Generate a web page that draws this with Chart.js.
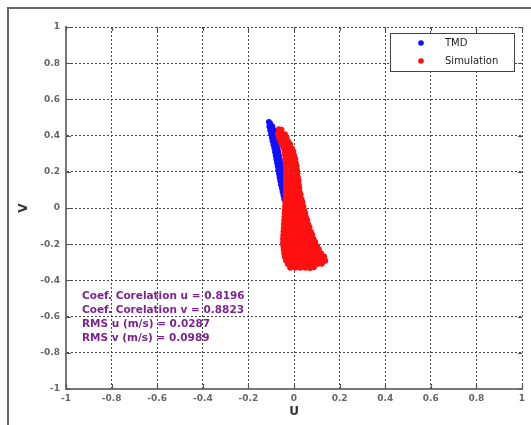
<!DOCTYPE html>
<html>
<head>
<meta charset="utf-8">
<script src="https://cdn.jsdelivr.net/npm/chart.js@4.4.1/dist/chart.umd.min.js"></script>
<style>
  body { margin: 0; background: #fff; overflow: hidden; }
  #wrap { position: relative; width: 531px; height: 425px; }
</style>
</head>
<body>
<div id="wrap"><canvas id="myChart"></canvas></div>
<script>
"use strict"

// Data (u, v)

const seriesNames = ['TMD', 'Simulation'];
const tickValues = [-1, -0.8, -0.6, -0.4, -0.2, 0, 0.2, 0.4, 0.6, 0.8, 1];
const statLines = [
    'Coef. Corelation u = 0.8196',
    'Coef. Corelation v = 0.8823',
    'RMS u (m/s) = 0.0287',
    'RMS v (m/s) = 0.0989'
];

const tmdPoints = [
    [-0.110, 0.475], [-0.104, 0.465],
    [-0.108, 0.45], [-0.095, 0.45], [-0.104, 0.43], [-0.088, 0.43],
    [-0.100, 0.41], [-0.085, 0.41], [-0.097, 0.39], [-0.082, 0.39],
    [-0.094, 0.37], [-0.079, 0.37], [-0.090, 0.35], [-0.076, 0.35],
    [-0.086, 0.33], [-0.072, 0.33], [-0.083, 0.31], [-0.069, 0.31],
    [-0.080, 0.29], [-0.066, 0.29], [-0.077, 0.27], [-0.063, 0.27],
    [-0.074, 0.25], [-0.060, 0.25], [-0.071, 0.23], [-0.057, 0.23],
    [-0.069, 0.21], [-0.055, 0.21], [-0.066, 0.19], [-0.052, 0.19],
    [-0.063, 0.17], [-0.050, 0.17], [-0.060, 0.15], [-0.048, 0.15],
    [-0.057, 0.13], [-0.046, 0.13], [-0.053, 0.11], [-0.044, 0.11],
    [-0.050, 0.09], [-0.042, 0.09], [-0.046, 0.07], [-0.043, 0.05],
    [-0.030, 0.02], [-0.020, -0.02], [0.018, 0.04], [0.035, -0.01],
    [-0.018, -0.05], [0.000, -0.08], [0.030, -0.12], [0.020, -0.17],
    [0.045, -0.22], [0.070, -0.26], [0.090, -0.28], [0.083, -0.29]
];

const simPoints = [
    [-0.066, 0.435], [-0.055, 0.432],
    [-0.070, 0.41], [-0.055, 0.412], [-0.040, 0.408],
    [-0.066, 0.39], [-0.049, 0.39], [-0.033, 0.392],
    [-0.059, 0.37], [-0.042, 0.37], [-0.026, 0.368],
    [-0.053, 0.35], [-0.035, 0.35], [-0.017, 0.352],
    [-0.045, 0.33], [-0.026, 0.33], [-0.008, 0.328],
    [-0.041, 0.31], [-0.022, 0.31], [-0.003, 0.312],
    [-0.039, 0.29], [-0.019, 0.29], [0.001, 0.288],
    [-0.037, 0.27], [-0.016, 0.27], [0.005, 0.272],
    [-0.036, 0.25], [-0.015, 0.25], [0.008, 0.248],
    [-0.035, 0.23], [-0.012, 0.23], [0.011, 0.232],
    [-0.035, 0.21], [-0.011, 0.21], [0.013, 0.208],
    [-0.035, 0.19], [-0.010, 0.19], [0.015, 0.192],
    [-0.035, 0.17], [-0.017, 0.17], [0.000, 0.17], [0.017, 0.168],
    [-0.035, 0.15], [-0.016, 0.15], [0.002, 0.15], [0.020, 0.152],
    [-0.035, 0.13], [-0.015, 0.13], [0.004, 0.13], [0.021, 0.128],
    [-0.035, 0.11], [-0.015, 0.11], [0.004, 0.11], [0.023, 0.112],
    [-0.035, 0.09], [-0.014, 0.09], [0.006, 0.09], [0.025, 0.088],
    [-0.036, 0.07], [-0.015, 0.07], [0.007, 0.07], [0.029, 0.072],
    [-0.037, 0.05], [-0.015, 0.05], [0.009, 0.05], [0.033, 0.048],
    [-0.038, 0.03], [-0.016, 0.03], [0.007, 0.03], [0.025, 0.03], [0.037, 0.032],
    [-0.039, 0.01], [-0.017, 0.01], [0.004, 0.01], [0.022, 0.01], [0.041, 0.008],
    [-0.040, -0.01], [-0.018, -0.01], [0.004, -0.01], [0.024, -0.01], [0.044, -0.012],
    [-0.041, -0.03], [-0.019, -0.03], [0.003, -0.03], [0.025, -0.03], [0.049, -0.028],
    [-0.042, -0.05], [-0.020, -0.05], [0.002, -0.05], [0.024, -0.05], [0.046, -0.05], [0.053, -0.052],
    [-0.043, -0.07], [-0.021, -0.07], [0.001, -0.07], [0.023, -0.07], [0.043, -0.07], [0.058, -0.068],
    [-0.044, -0.09], [-0.022, -0.09], [0.000, -0.09], [0.022, -0.09], [0.043, -0.09], [0.063, -0.092],
    [-0.045, -0.11], [-0.023, -0.11], [-0.001, -0.11], [0.021, -0.11], [0.044, -0.11], [0.068, -0.108],
    [-0.046, -0.13], [-0.024, -0.13], [-0.002, -0.13], [0.020, -0.13], [0.042, -0.13], [0.060, -0.13], [0.074, -0.132],
    [-0.047, -0.15], [-0.025, -0.15], [-0.003, -0.15], [0.019, -0.15], [0.041, -0.15], [0.062, -0.15], [0.080, -0.148],
    [-0.048, -0.17], [-0.026, -0.17], [-0.004, -0.17], [0.018, -0.17], [0.040, -0.17], [0.062, -0.17], [0.086, -0.172],
    [-0.048, -0.19], [-0.026, -0.19], [-0.004, -0.19], [0.018, -0.19], [0.040, -0.19], [0.062, -0.19], [0.080, -0.19], [0.093, -0.188],
    [-0.047, -0.21], [-0.025, -0.21], [-0.003, -0.21], [0.019, -0.21], [0.041, -0.21], [0.063, -0.21], [0.082, -0.21], [0.101, -0.212],
    [-0.045, -0.23], [-0.023, -0.23], [-0.001, -0.23], [0.021, -0.23], [0.043, -0.23], [0.065, -0.23], [0.087, -0.23], [0.109, -0.228],
    [-0.043, -0.25], [-0.021, -0.25], [0.001, -0.25], [0.023, -0.25], [0.045, -0.25], [0.067, -0.25], [0.089, -0.25], [0.108, -0.25], [0.119, -0.252],
    [-0.040, -0.27], [-0.018, -0.27], [0.004, -0.27], [0.026, -0.27], [0.048, -0.27], [0.070, -0.27], [0.092, -0.27], [0.112, -0.27], [0.132, -0.268],
    [-0.035, -0.29], [-0.013, -0.29], [0.009, -0.29], [0.031, -0.29], [0.053, -0.29], [0.075, -0.29], [0.097, -0.29], [0.117, -0.29], [0.137, -0.292],
    [-0.027, -0.31], [-0.005, -0.31], [0.017, -0.31], [0.039, -0.31], [0.061, -0.31], [0.083, -0.31], [0.103, -0.31], [0.122, -0.308],
    [-0.017, -0.33], [0.005, -0.33], [0.027, -0.33], [0.049, -0.33], [0.070, -0.332], [0.087, -0.328]
];

const tmdColor = '#1010ff';
const simColor = '#ff1010';


// Frame, inner ticks, stats text and boxed legend

const extras = {
    id: 'extras',
    beforeDraw(chart) {
        const ctx = chart.ctx;
        ctx.save();
        ctx.strokeStyle = '#666';
        ctx.lineWidth = 2;
        ctx.beginPath();
        ctx.moveTo(8, 425);
        ctx.lineTo(8, 8);
        ctx.lineTo(531, 8);
        ctx.stroke();
        ctx.restore();
    },
    afterDraw(chart) {
        const ctx = chart.ctx;
        const a = chart.chartArea;
        const xs = chart.scales.x, ys = chart.scales.y;
        ctx.save();

        // little ticks on the inside of all four sides
        ctx.strokeStyle = '#555';
        ctx.lineWidth = 1.2;
        ctx.beginPath();
        tickValues.forEach(t => {
            const px = Math.round(xs.getPixelForValue(t)) + 0.5;
            const py = Math.round(ys.getPixelForValue(t)) + 0.5;
            ctx.moveTo(px, a.bottom); ctx.lineTo(px, a.bottom - 5);
            ctx.moveTo(px, a.top); ctx.lineTo(px, a.top + 4);
            ctx.moveTo(a.left, py); ctx.lineTo(a.left + 5, py);
            ctx.moveTo(a.right, py); ctx.lineTo(a.right - 4, py);
        });
        ctx.stroke();

        // stats
        ctx.fillStyle = '#7d2390';
        ctx.font = 'bold 10.5px "DejaVu Sans"';
        ctx.textBaseline = 'middle';
        ctx.textAlign = 'left';
        statLines.forEach((s, i) => ctx.fillText(s, 82, 296 + i * 14));

        // legend box
        ctx.fillStyle = '#fff';
        ctx.fillRect(390, 33, 124, 38);
        ctx.strokeStyle = '#444';
        ctx.lineWidth = 1;
        ctx.strokeRect(390.5, 33.5, 124, 38);
        const cols = [tmdColor, simColor];
        ctx.font = '10px "DejaVu Sans"';
        seriesNames.forEach((n, i) => {
            const y = 43 + i * 18;
            ctx.fillStyle = cols[i];
            ctx.beginPath();
            ctx.arc(421, y, 2.8, 0, Math.PI * 2);
            ctx.fill();
            ctx.fillStyle = '#222';
            ctx.fillText(n, 445, y);
        });
        ctx.restore();
    }
};

const tickFont = { family: 'DejaVu Sans', size: 9, weight: 'bold' };
const tickLabel = v => String(Math.round(v * 10) / 10);

const myChart = new Chart(document.getElementById('myChart'), {
    type: 'scatter',
    data: {
        datasets: [
            {
                label: seriesNames[0],
                data: tmdPoints.map(p => ({ x: p[0], y: p[1] })),
                backgroundColor: tmdColor,
                pointRadius: 3,
                borderWidth: 0,
                order: 2
            },
            {
                label: seriesNames[1],
                data: simPoints.map(p => ({ x: p[0], y: p[1] })),
                backgroundColor: simColor,
                pointRadius: 3,
                borderWidth: 0,
                order: 1
            }
        ]
    },
    options: {
        responsive: true,
        maintainAspectRatio: false,
        animation: false,
        layout: { padding: { left: 10, top: 27, right: 9, bottom: 0 } },
        plugins: {
            legend: { display: false },
            tooltip: { enabled: false }
        },
        scales: {
            x: {
                min: -1,
                max: 1,
                afterBuildTicks: s => { s.ticks = tickValues.map(v => ({ value: v })); },
                afterFit: s => { s.height = 36; },
                ticks: { font: tickFont, color: '#666', padding: 4, maxRotation: 0, callback: tickLabel },
                grid: { color: '#444', drawTicks: false },
                border: { display: true, color: '#777', width: 2, dash: [2, 2] },
                title: {
                    display: true, text: 'U', color: '#333',
                    font: { family: 'DejaVu Sans', size: 12, weight: 'bold' },
                    padding: { top: 0, bottom: 6 }
                }
            },
            y: {
                min: -1,
                max: 1,
                afterBuildTicks: s => { s.ticks = tickValues.map(v => ({ value: v })); },
                afterFit: s => { s.width = 56; },
                ticks: { font: tickFont, color: '#666', padding: 6, callback: tickLabel },
                grid: { color: '#444', drawTicks: false },
                border: { display: true, color: '#777', width: 2, dash: [2, 2] },
                title: {
                    display: true, text: 'V', color: '#333',
                    font: { family: 'DejaVu Sans', size: 12, weight: 'bold' },
                    padding: { top: 7, bottom: 0 }
                }
            }
        }
    },
    plugins: [extras]
});
</script>
</body>
</html>
